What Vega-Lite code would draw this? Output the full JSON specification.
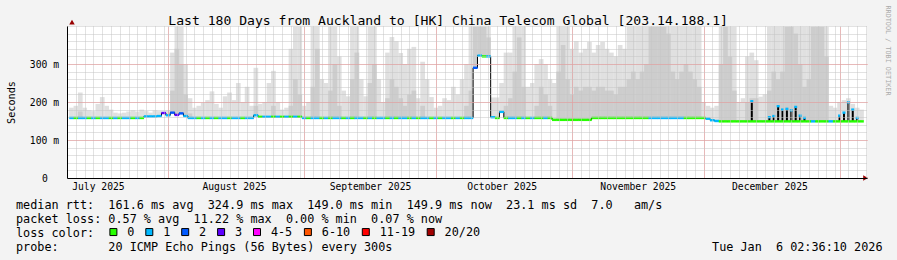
{
  "$schema": "https://vega.github.io/schema/vega-lite/v6.json",
  "width": 800,
  "height": 152,
  "autosize": {"type": "none"},
  "padding": {"left": 67, "top": 26, "right": 30, "bottom": 82},
  "background": "#f3f3f3",
  "view": {"fill": "#ffffff", "stroke": null},
  "config": {"font": "DejaVu Sans Mono"},
  "data": {"values": [
    {"d":"2025-07-10","m":158,"c":"1","h":185},
    {"d":"2025-07-11","m":158,"c":"0","h":190},
    {"d":"2025-07-12","m":158,"c":"1","h":225,"md":175},
    {"d":"2025-07-13","m":158,"c":"1","h":185},
    {"d":"2025-07-14","m":158,"c":"0","h":178},
    {"d":"2025-07-15","m":158,"c":"1","h":176},
    {"d":"2025-07-16","m":158,"c":"0","h":195},
    {"d":"2025-07-17","m":158,"c":"1","h":213},
    {"d":"2025-07-18","m":158,"c":"1","h":190},
    {"d":"2025-07-19","m":158,"c":"0","h":180},
    {"d":"2025-07-20","m":158,"c":"1","h":172},
    {"d":"2025-07-21","m":158,"c":"0","h":170},
    {"d":"2025-07-22","m":158,"c":"1","h":172},
    {"d":"2025-07-23","m":158,"c":"1","h":175},
    {"d":"2025-07-24","m":158,"c":"0","h":178},
    {"d":"2025-07-25","m":158,"c":"1","h":175},
    {"d":"2025-07-26","m":158,"c":"0","h":180},
    {"d":"2025-07-27","m":162,"c":"1","h":176},
    {"d":"2025-07-28","m":162,"c":"1","h":172},
    {"d":"2025-07-29","m":162,"c":"1","h":178},
    {"d":"2025-07-30","m":163,"c":"1","h":176},
    {"d":"2025-07-31","m":171,"c":"3","h":175},
    {"d":"2025-08-01","m":165,"c":"1","h":178},
    {"d":"2025-08-02","m":172,"c":"2","h":330,"md":230},
    {"d":"2025-08-03","m":166,"c":"3","h":398,"md":340},
    {"d":"2025-08-04","m":170,"c":"2","h":398,"md":300},
    {"d":"2025-08-05","m":163,"c":"1","h":300,"md":220},
    {"d":"2025-08-06","m":158,"c":"1","h":210,"md":170},
    {"d":"2025-08-07","m":158,"c":"1","h":185},
    {"d":"2025-08-08","m":158,"c":"0","h":190},
    {"d":"2025-08-09","m":158,"c":"1","h":198},
    {"d":"2025-08-10","m":158,"c":"0","h":205},
    {"d":"2025-08-11","m":158,"c":"1","h":228},
    {"d":"2025-08-12","m":158,"c":"0","h":195},
    {"d":"2025-08-13","m":158,"c":"1","h":185},
    {"d":"2025-08-14","m":158,"c":"1","h":215},
    {"d":"2025-08-15","m":158,"c":"0","h":225},
    {"d":"2025-08-16","m":158,"c":"1","h":205},
    {"d":"2025-08-17","m":158,"c":"1","h":250},
    {"d":"2025-08-18","m":158,"c":"0","h":200},
    {"d":"2025-08-19","m":158,"c":"1","h":240},
    {"d":"2025-08-20","m":158,"c":"1","h":190},
    {"d":"2025-08-21","m":165,"c":"1","h":290,"md":190},
    {"d":"2025-08-22","m":161,"c":"0","h":195},
    {"d":"2025-08-23","m":161,"c":"1","h":200},
    {"d":"2025-08-24","m":161,"c":"1","h":250},
    {"d":"2025-08-25","m":161,"c":"0","h":282,"md":190},
    {"d":"2025-08-26","m":161,"c":"1","h":200},
    {"d":"2025-08-27","m":161,"c":"0","h":180},
    {"d":"2025-08-28","m":161,"c":"1","h":185},
    {"d":"2025-08-29","m":161,"c":"0","h":340,"md":190},
    {"d":"2025-08-30","m":161,"c":"1","h":398,"md":260},
    {"d":"2025-08-31","m":161,"c":"0","h":398,"md":220},
    {"d":"2025-09-01","m":158,"c":"1","h":190},
    {"d":"2025-09-02","m":158,"c":"0","h":200},
    {"d":"2025-09-03","m":158,"c":"1","h":398,"md":240},
    {"d":"2025-09-04","m":158,"c":"1","h":398,"md":340},
    {"d":"2025-09-05","m":158,"c":"0","h":260},
    {"d":"2025-09-06","m":158,"c":"1","h":250},
    {"d":"2025-09-07","m":158,"c":"0","h":398,"md":230},
    {"d":"2025-09-08","m":158,"c":"1","h":398,"md":300},
    {"d":"2025-09-09","m":158,"c":"1","h":320,"md":190},
    {"d":"2025-09-10","m":158,"c":"0","h":230},
    {"d":"2025-09-11","m":158,"c":"1","h":215},
    {"d":"2025-09-12","m":158,"c":"0","h":398,"md":260},
    {"d":"2025-09-13","m":158,"c":"1","h":398,"md":330},
    {"d":"2025-09-14","m":158,"c":"1","h":260},
    {"d":"2025-09-15","m":158,"c":"0","h":215},
    {"d":"2025-09-16","m":158,"c":"1","h":398,"md":250},
    {"d":"2025-09-17","m":158,"c":"0","h":398,"md":300},
    {"d":"2025-09-18","m":158,"c":"1","h":260},
    {"d":"2025-09-19","m":158,"c":"1","h":200},
    {"d":"2025-09-20","m":158,"c":"0","h":330,"md":210},
    {"d":"2025-09-21","m":158,"c":"1","h":371,"md":260},
    {"d":"2025-09-22","m":158,"c":"0","h":360,"md":240},
    {"d":"2025-09-23","m":158,"c":"1","h":329,"md":210},
    {"d":"2025-09-24","m":158,"c":"1","h":300,"md":190},
    {"d":"2025-09-25","m":158,"c":"0","h":340,"md":220},
    {"d":"2025-09-26","m":158,"c":"1","h":345,"md":230},
    {"d":"2025-09-27","m":158,"c":"0","h":210},
    {"d":"2025-09-28","m":158,"c":"1","h":306,"md":190},
    {"d":"2025-09-29","m":158,"c":"1","h":260},
    {"d":"2025-09-30","m":158,"c":"0","h":213},
    {"d":"2025-10-01","m":158,"c":"1","h":185},
    {"d":"2025-10-02","m":158,"c":"0","h":190},
    {"d":"2025-10-03","m":158,"c":"1","h":210},
    {"d":"2025-10-04","m":158,"c":"1","h":205},
    {"d":"2025-10-05","m":158,"c":"0","h":240},
    {"d":"2025-10-06","m":158,"c":"1","h":220},
    {"d":"2025-10-07","m":158,"c":"0","h":260},
    {"d":"2025-10-08","m":158,"c":"1","h":300,"md":190},
    {"d":"2025-10-09","m":158,"c":"1","h":398,"md":230},
    {"d":"2025-10-10","m":290,"c":"2","h":398,"md":398},
    {"d":"2025-10-11","m":322,"c":"1","h":398,"md":398},
    {"d":"2025-10-12","m":320,"c":"0","h":398,"md":398},
    {"d":"2025-10-13","m":320,"c":"1","h":398,"md":370},
    {"d":"2025-10-14","m":160,"c":"1","h":212},
    {"d":"2025-10-15","m":158,"c":"0","h":212},
    {"d":"2025-10-16","m":174,"c":"1","h":250},
    {"d":"2025-10-17","m":158,"c":"0","h":330,"md":190},
    {"d":"2025-10-18","m":158,"c":"1","h":330,"md":210},
    {"d":"2025-10-19","m":158,"c":"1","h":398,"md":280},
    {"d":"2025-10-20","m":158,"c":"0","h":398,"md":370},
    {"d":"2025-10-21","m":158,"c":"1","h":398,"md":240},
    {"d":"2025-10-22","m":158,"c":"0","h":240},
    {"d":"2025-10-23","m":158,"c":"1","h":250},
    {"d":"2025-10-24","m":158,"c":"0","h":300,"md":190},
    {"d":"2025-10-25","m":158,"c":"0","h":313,"md":240},
    {"d":"2025-10-26","m":158,"c":"1","h":300,"md":220},
    {"d":"2025-10-27","m":158,"c":"0","h":260,"md":190},
    {"d":"2025-10-28","m":153,"c":"0","h":250},
    {"d":"2025-10-29","m":153,"c":"0","h":398,"md":280},
    {"d":"2025-10-30","m":153,"c":"0","h":398,"md":350},
    {"d":"2025-10-31","m":153,"c":"0","h":398,"md":260},
    {"d":"2025-11-01","m":153,"c":"0","h":340,"md":220},
    {"d":"2025-11-02","m":153,"c":"0","h":360,"md":240},
    {"d":"2025-11-03","m":153,"c":"0","h":330,"md":230},
    {"d":"2025-11-04","m":153,"c":"0","h":340,"md":240},
    {"d":"2025-11-05","m":153,"c":"0","h":358,"md":240},
    {"d":"2025-11-06","m":158,"c":"0","h":330,"md":230},
    {"d":"2025-11-07","m":158,"c":"0","h":350,"md":240},
    {"d":"2025-11-08","m":158,"c":"0","h":358,"md":240},
    {"d":"2025-11-09","m":158,"c":"0","h":340,"md":230},
    {"d":"2025-11-10","m":158,"c":"0","h":330,"md":230},
    {"d":"2025-11-11","m":158,"c":"0","h":320,"md":220},
    {"d":"2025-11-12","m":158,"c":"0","h":350,"md":240},
    {"d":"2025-11-13","m":158,"c":"0","h":340,"md":240},
    {"d":"2025-11-14","m":158,"c":"0","h":398,"md":260},
    {"d":"2025-11-15","m":158,"c":"0","h":398,"md":280},
    {"d":"2025-11-16","m":158,"c":"0","h":398,"md":260},
    {"d":"2025-11-17","m":158,"c":"0","h":398,"md":280},
    {"d":"2025-11-18","m":158,"c":"0","h":398,"md":300},
    {"d":"2025-11-19","m":158,"c":"1","h":398,"md":398},
    {"d":"2025-11-20","m":158,"c":"1","h":398,"md":398},
    {"d":"2025-11-21","m":158,"c":"1","h":398,"md":398},
    {"d":"2025-11-22","m":158,"c":"1","h":398,"md":398},
    {"d":"2025-11-23","m":158,"c":"1","h":398,"md":380},
    {"d":"2025-11-24","m":158,"c":"1","h":398,"md":280},
    {"d":"2025-11-25","m":158,"c":"1","h":398,"md":260},
    {"d":"2025-11-26","m":158,"c":"1","h":398,"md":280},
    {"d":"2025-11-27","m":158,"c":"0","h":398,"md":300},
    {"d":"2025-11-28","m":158,"c":"0","h":398,"md":280},
    {"d":"2025-11-29","m":158,"c":"0","h":398,"md":260},
    {"d":"2025-11-30","m":158,"c":"0","h":398,"md":240},
    {"d":"2025-12-01","m":158,"c":"0","h":200},
    {"d":"2025-12-02","m":156,"c":"1","h":190},
    {"d":"2025-12-03","m":152,"c":"1","h":185},
    {"d":"2025-12-04","m":150,"c":"1","h":190},
    {"d":"2025-12-05","m":149,"c":"0","h":398,"md":300},
    {"d":"2025-12-06","m":149,"c":"0","h":398,"md":398},
    {"d":"2025-12-07","m":149,"c":"0","h":398,"md":320},
    {"d":"2025-12-08","m":149,"c":"0","h":398,"md":230},
    {"d":"2025-12-09","m":149,"c":"0","h":200},
    {"d":"2025-12-10","m":149,"c":"0","h":210},
    {"d":"2025-12-11","m":149,"c":"0","h":320,"md":200},
    {"d":"2025-12-12","m":149,"c":"0","h":330,"md":210,"s":202},
    {"d":"2025-12-13","m":149,"c":"0","h":310,"md":210},
    {"d":"2025-12-14","m":149,"c":"0","h":214},
    {"d":"2025-12-15","m":149,"c":"0","h":220},
    {"d":"2025-12-16","m":149,"c":"0","h":398,"md":230,"s":160},
    {"d":"2025-12-17","m":149,"c":"0","h":398,"md":280,"s":163},
    {"d":"2025-12-18","m":149,"c":"0","h":398,"md":260,"s":189},
    {"d":"2025-12-19","m":149,"c":"0","h":398,"md":280,"s":180},
    {"d":"2025-12-20","m":149,"c":"0","h":398,"md":398,"s":182},
    {"d":"2025-12-21","m":149,"c":"0","h":398,"md":398,"s":178},
    {"d":"2025-12-22","m":149,"c":"0","h":398,"md":380,"s":187},
    {"d":"2025-12-23","m":149,"c":"0","h":398,"md":300,"s":164},
    {"d":"2025-12-24","m":149,"c":"0","h":398,"md":240,"s":158},
    {"d":"2025-12-25","m":149,"c":"0","h":398,"md":260},
    {"d":"2025-12-26","m":149,"c":"1","h":398,"md":398},
    {"d":"2025-12-27","m":149,"c":"0","h":398,"md":398},
    {"d":"2025-12-28","m":149,"c":"0","h":398,"md":398},
    {"d":"2025-12-29","m":149,"c":"0","h":398,"md":320},
    {"d":"2025-12-30","m":149,"c":"1","h":190},
    {"d":"2025-12-31","m":149,"c":"0","h":185},
    {"d":"2026-01-01","m":149,"c":"0","h":200,"s":164},
    {"d":"2026-01-02","m":149,"c":"0","h":205,"s":172},
    {"d":"2026-01-03","m":149,"c":"0","h":210,"s":199},
    {"d":"2026-01-04","m":149,"c":"0","h":195,"s":180},
    {"d":"2026-01-05","m":149,"c":"0","h":185,"s":158},
    {"d":"2026-01-06","m":149,"c":"0","h":180}
  ]},
  "layer": [
    {
      "mark": {"type": "bar", "width": 4.7, "color": "#e0e0e0", "clip": true},
      "encoding": {
        "x": {"field": "d", "type": "temporal",
          "scale": {"type": "utc", "domain": [{"year": 2025, "month": "Jul", "date": 10, "hours": 2, "minutes": 36, "utc": true}, {"year": 2026, "month": "Jan", "date": 6, "hours": 2, "minutes": 36, "utc": true}]},
          "axis": {
            "orient": "bottom",
            "tickCount": {"interval": "day", "step": 2},
            "grid": true, "gridColor": "#c4c4c4", "gridDash": [1, 1], "gridWidth": 1,
            "ticks": false,
            "domain": true, "domainColor": "#000000", "domainWidth": 1,
            "labelExpr": "utcdate(datum.value) == 15 ? utcFormat(datum.value, '%B %Y') : ''",
            "labelOffset": 4.44, "labelOverlap": false, "labelFlush": false, "labelBound": false,
            "labelFont": "DejaVu Sans Mono", "labelFontSize": 9.7, "labelColor": "#000000", "labelPadding": 3.5,
            "zindex": 1,
            "title": [
              "median rtt:\u00a0\u00a0161.6 ms avg\u00a0\u00a0324.9 ms max\u00a0\u00a0149.0 ms min\u00a0\u00a0149.9 ms now\u00a0\u00a023.1 ms sd\u00a0\u00a07.0\u00a0\u00a0\u00a0am/s",
              "packet loss: 0.57 % avg\u00a0\u00a011.22 % max\u00a0\u00a00.00 % min\u00a0\u00a00.07 % now",
              "loss color:",
              "probe:\u00a0\u00a0\u00a0\u00a0\u00a0\u00a0\u00a020 ICMP Echo Pings (56 Bytes) every 300s\u00a0\u00a0\u00a0\u00a0\u00a0\u00a0\u00a0\u00a0\u00a0\u00a0\u00a0\u00a0\u00a0\u00a0\u00a0\u00a0\u00a0\u00a0\u00a0\u00a0\u00a0\u00a0\u00a0\u00a0\u00a0\u00a0\u00a0\u00a0\u00a0\u00a0\u00a0\u00a0\u00a0\u00a0\u00a0\u00a0\u00a0\u00a0\u00a0\u00a0\u00a0\u00a0\u00a0\u00a0\u00a0Tue Jan\u00a0\u00a06 02:36:10 2026"
            ],
            "titleX": -51.5, "titleY": 30.5, "titleAlign": "left", "titleAnchor": "start", "titleBaseline": "alphabetic",
            "titleFont": "DejaVu Sans Mono", "titleFontSize": 11.8, "titleFontWeight": "normal", "titleLineHeight": 14, "titleColor": "#000000"
          }
        },
        "y": {"field": "h", "type": "quantitative",
          "scale": {"domain": [0, 400], "nice": false},
          "axis": {
            "orient": "left",
            "values": [0, 20, 40, 60, 80, 100, 120, 140, 160, 180, 200, 220, 240, 260, 280, 300, 320, 340, 360, 380, 400],
            "grid": true, "gridColor": {"condition": {"test": "datum.value == 0", "value": "transparent"}, "value": "#c4c4c4"}, "gridDash": [1, 1], "gridWidth": 1,
            "ticks": false,
            "domain": true, "domainColor": "#000000", "domainWidth": 1,
            "labelExpr": "datum.value == 0 ? '0' : (datum.value % 100 == 0 && datum.value < 400 ? datum.value + '\u00a0m' : '')",
            "labelFont": "DejaVu Sans Mono", "labelFontSize": 9.7, "labelColor": "#000000",
            "labelPadding": {"condition": {"test": "datum.value == 0", "value": 19.6}, "value": 8.5},
            "labelOverlap": false, "labelFlush": false, "labelBound": false,
            "zindex": 1,
            "title": "Seconds", "titleAngle": 270, "titleX": -56, "titleY": 76, "titleAlign": "center", "titleBaseline": "middle",
            "titleFont": "DejaVu Sans Mono", "titleFontSize": 10.2, "titleFontWeight": "normal", "titleColor": "#000000"
          }
        },
        "y2": {"field": "m"}
      }
    },
    {
      "mark": {"type": "bar", "width": 4.7, "color": "#cdcdcd", "clip": true},
      "encoding": {
        "x": {"field": "d", "type": "temporal",
          "axis": {
            "orient": "top",
            "values": [
              {"year": 2025, "month": "Aug", "date": 1, "utc": true},
              {"year": 2025, "month": "Sep", "date": 1, "utc": true},
              {"year": 2025, "month": "Oct", "date": 1, "utc": true},
              {"year": 2025, "month": "Nov", "date": 1, "utc": true},
              {"year": 2025, "month": "Dec", "date": 1, "utc": true},
              {"year": 2026, "month": "Jan", "date": 1, "utc": true}
            ],
            "grid": true, "gridColor": "#ec9090", "gridDash": [1, 1], "gridWidth": 1,
            "labels": false, "ticks": false, "domain": false, "zindex": 1,
            "title": "Last 180 Days from Auckland to [HK] China Telecom Global [203.14.188.1]",
            "titleX": 380.6, "titleY": -2, "titleAlign": "center", "titleAnchor": "middle", "titleBaseline": "alphabetic",
            "titleFont": "DejaVu Sans Mono", "titleFontSize": 13.1, "titleFontWeight": "normal", "titleColor": "#000000"
          }
        },
        "y": {"field": "md", "type": "quantitative",
          "axis": {
            "orient": "right",
            "values": [100, 200, 300],
            "grid": true, "gridColor": "#ec9090", "gridDash": [1, 1], "gridWidth": 1,
            "labels": false, "ticks": false, "domain": false, "zindex": 1,
            "title": "RRDTOOL / TOBI OETIKER", "titleAngle": 90, "titleX": 20, "titleY": 24, "titleAlign": "center", "titleBaseline": "middle",
            "titleFont": "DejaVu Sans Mono", "titleFontSize": 6.8, "titleFontWeight": "normal", "titleColor": "#aaaaaa"
          }
        },
        "y2": {"field": "m"}
      }
    },
    {
      "mark": {"type": "line", "interpolate": "step", "color": "#000000", "strokeWidth": 1, "clip": true},
      "encoding": {
        "x": {"field": "d", "type": "temporal", "axis": null},
        "y": {"field": "m", "type": "quantitative", "axis": null}
      }
    },
    {
      "mark": {"type": "bar", "width": 2, "color": "#000000", "clip": true},
      "encoding": {
        "x": {"field": "d", "type": "temporal", "axis": null},
        "y": {"field": "s", "type": "quantitative", "axis": null},
        "y2": {"field": "m"}
      }
    },
    {
      "mark": {"type": "tick", "orient": "horizontal", "size": 4.6, "thickness": 2.4, "opacity": 1, "clip": true},
      "encoding": {
        "x": {"field": "d", "type": "temporal", "axis": null},
        "y": {"field": "m", "type": "quantitative", "axis": null},
        "color": {"field": "c", "type": "nominal",
          "scale": {"domain": ["0", "1", "2", "3", "4-5", "6-10", "11-19", "20/20"],
                    "range": ["#26ff00", "#00b8ff", "#0059ff", "#5e00ff", "#ff00ff", "#ff5500", "#ff0000", "#a10000"]},
          "legend": {
            "orient": "none", "legendX": 40.5, "legendY": 200, "direction": "horizontal", "title": null,
            "symbolType": "square", "symbolSize": 49, "symbolStrokeColor": "#000000", "symbolStrokeWidth": 1, "symbolOpacity": 1,
            "labelFont": "DejaVu Sans Mono", "labelFontSize": 11.8, "labelColor": "#000000", "labelOffset": 8,
            "columnPadding": 8.9, "padding": 0, "labelLimit": 200
          }
        }
      }
    },
    {
      "mark": {"type": "tick", "orient": "horizontal", "size": 3, "thickness": 2.4, "opacity": 1, "color": "#00b8ff", "clip": true},
      "encoding": {
        "x": {"field": "d", "type": "temporal", "axis": null},
        "y": {"field": "s", "type": "quantitative", "axis": null}
      }
    },
    {
      "data": {"values": [{}]},
      "mark": {"type": "point", "shape": "triangle-right", "filled": true, "size": 30, "color": "#990000", "opacity": 1, "clip": false},
      "encoding": {
        "x": {"datum": {"year": 2026, "month": "Jan", "date": 6, "hours": 22, "utc": true}, "type": "temporal", "axis": null},
        "y": {"datum": 0, "type": "quantitative", "axis": null}
      }
    },
    {
      "data": {"values": [{}]},
      "mark": {"type": "point", "shape": "triangle-up", "filled": true, "size": 30, "color": "#990000", "opacity": 1, "clip": false},
      "encoding": {
        "x": {"datum": {"year": 2025, "month": "Jul", "date": 10, "hours": 2, "minutes": 36, "utc": true}, "type": "temporal", "axis": null},
        "y": {"datum": 410, "type": "quantitative", "axis": null}
      }
    }
  ],
  "resolve": {"axis": {"x": "independent", "y": "independent"}}
}
